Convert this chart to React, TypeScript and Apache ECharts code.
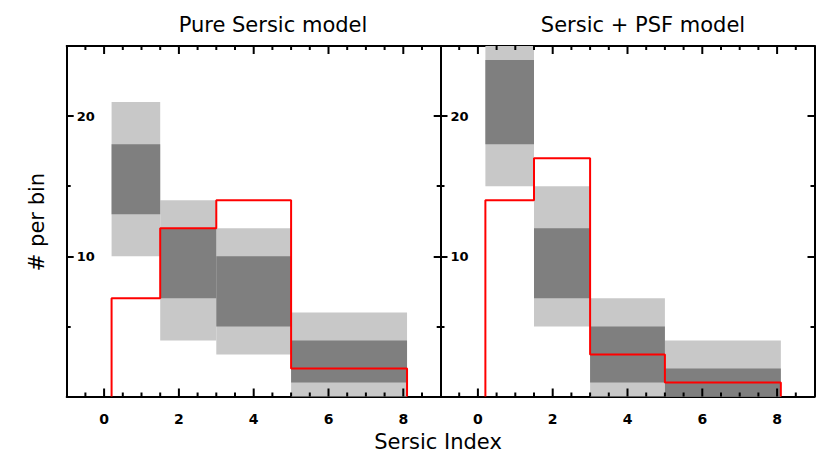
import React, { useEffect, useRef } from "react";
import * as echarts from "echarts";

// Bin edges (Sersic index)
const binEdges = [0.2, 1.5, 3, 5, 8.1];

// Left panel: Pure Sersic model
const leftLightLow = [10, 4, 3, 0];
const leftLightHigh = [21, 14, 12, 6];
const leftDarkLow = [13, 7, 5, 1];
const leftDarkHigh = [18, 12, 10, 4];
const leftRed = [7, 12, 14, 2];

// Right panel: Sersic + PSF model
const rightLightLow = [15, 5, 0, 0];
const rightLightHigh = [27, 15, 7, 4];
const rightDarkLow = [18, 7, 1, 0];
const rightDarkHigh = [24, 12, 5, 2];
const rightRed = [14, 17, 3, 1];

const xMajorTicks = [0, 2, 4, 6, 8];
const xMinorTicks = [-0.5, 0.5, 1, 1.5, 2.5, 3, 3.5, 4.5, 5, 5.5, 6.5, 7, 7.5, 8.5];
const yMajorTicks = [10, 20];
const titles = ["Pure Sersic model", "Sersic + PSF model"];

const FONT = "DejaVu Sans";
const X_MIN = -1;
const X_MAX = 9;
const Y_MIN = 0;
const Y_MAX = 25;
const GRID_H = 350.5;
const MINOR_LEN = 4;
const MAJOR_LEN = 8;

function rects(low: number[], high: number[]) {
  return low.map((lo, i) => [binEdges[i], binEdges[i + 1], lo, high[i]]);
}

function stepLine(vals: number[]) {
  const pts: number[][] = [[binEdges[0], 0]];
  vals.forEach((v, i) => {
    pts.push([binEdges[i], v]);
    pts.push([binEdges[i + 1], v]);
  });
  pts.push([binEdges[binEdges.length - 1], 0]);
  return pts;
}

// tick segments (bottom and top edges, pointing inward), broken with '-'
function tickSegments(vals: number[], lenPx: number) {
  const du = (lenPx * (Y_MAX - Y_MIN)) / GRID_H;
  const out: any[] = [];
  vals.forEach((v) => {
    out.push([v, Y_MIN], [v, Y_MIN + du], "-");
    out.push([v, Y_MAX], [v, Y_MAX - du], "-");
  });
  return out;
}

export default function App() {
  const ref = useRef<HTMLDivElement>(null);
  useEffect(() => {
    if (!ref.current) return;
    const chart = echarts.init(ref.current, undefined, { renderer: "svg" });

    const gridLefts = [66.7, 440.5];
    const grids = gridLefts.map((l) => ({
      left: l,
      top: 46,
      width: 374,
      height: GRID_H,
      containLabel: false,
    }));

    const xAxes: any[] = [];
    const yAxes: any[] = [];
    const mkLine = (show: boolean) => ({ show, onZero: false, lineStyle: { color: "#000", width: 2 } });
    const mkTick = () => ({ color: "#000", width: 2 });
    [0, 1].forEach((g) => {
      xAxes.push({
        type: "value",
        gridIndex: g,
        min: X_MIN,
        max: X_MAX,
        interval: 0.5,
        position: "bottom",
        splitLine: { show: false },
        axisLine: mkLine(true),
        axisTick: { show: false },
        axisLabel: {
          show: true,
          customValues: xMajorTicks,
          fontFamily: FONT,
          fontSize: 14,
          fontWeight: "bold",
          color: "#000",
          margin: 15,
        },
      });
      xAxes.push({
        type: "value",
        gridIndex: g,
        min: X_MIN,
        max: X_MAX,
        interval: 0.5,
        position: "top",
        splitLine: { show: false },
        axisLine: mkLine(true),
        axisTick: { show: false },
        axisLabel: { show: false },
      });

      const baseY = {
        type: "value",
        gridIndex: g,
        min: Y_MIN,
        max: Y_MAX,
        interval: 5,
        splitLine: { show: false },
      };
      yAxes.push({
        ...baseY,
        position: "left",
        axisLine: mkLine(true),
        axisTick: { show: true, inside: true, length: 4, lineStyle: mkTick() },
        axisLabel: {
          show: true,
          inside: true,
          customValues: yMajorTicks,
          fontFamily: FONT,
          fontSize: 13,
          fontWeight: "bold",
          color: "#000",
          margin: 10,
        },
      });
      yAxes.push({
        ...baseY,
        position: "left",
        axisLine: mkLine(false),
        axisTick: { show: true, inside: true, length: 7, customValues: yMajorTicks, lineStyle: mkTick() },
        axisLabel: { show: false },
      });
      yAxes.push({
        ...baseY,
        position: "right",
        axisLine: mkLine(true),
        axisTick: { show: true, inside: true, length: 4, lineStyle: mkTick() },
        axisLabel: { show: false },
      });
      yAxes.push({
        ...baseY,
        position: "right",
        axisLine: mkLine(false),
        axisTick: { show: true, inside: true, length: 7, customValues: yMajorTicks, lineStyle: mkTick() },
        axisLabel: { show: false },
      });
    });

    const renderRect = (color: string) => (params: any, api: any) => {
      const p0 = api.coord([api.value(0), api.value(3)]);
      const p1 = api.coord([api.value(1), api.value(2)]);
      const shape = echarts.graphic.clipRectByRect(
        { x: p0[0], y: p0[1], width: p1[0] - p0[0], height: p1[1] - p0[1] },
        {
          x: params.coordSys.x,
          y: params.coordSys.y,
          width: params.coordSys.width,
          height: params.coordSys.height,
        }
      );
      return shape ? { type: "rect", shape, style: { fill: color } } : null;
    };

    const panels = [
      { lightLow: leftLightLow, lightHigh: leftLightHigh, darkLow: leftDarkLow, darkHigh: leftDarkHigh, red: leftRed },
      { lightLow: rightLightLow, lightHigh: rightLightHigh, darkLow: rightDarkLow, darkHigh: rightDarkHigh, red: rightRed },
    ];

    const series: any[] = [];
    panels.forEach((p, g) => {
      const xi = g * 2;
      const yi = g * 4;
      series.push({
        type: "custom",
        xAxisIndex: xi,
        yAxisIndex: yi,
        renderItem: renderRect("#c8c8c8"),
        data: rects(p.lightLow, p.lightHigh),
        encode: { x: [0, 1], y: [2, 3] },
        z: 1,
        silent: true,
      });
      series.push({
        type: "custom",
        xAxisIndex: xi,
        yAxisIndex: yi,
        renderItem: renderRect("#7f7f7f"),
        data: rects(p.darkLow, p.darkHigh),
        encode: { x: [0, 1], y: [2, 3] },
        z: 2,
        silent: true,
      });
      series.push({
        type: "line",
        xAxisIndex: xi,
        yAxisIndex: yi,
        data: stepLine(p.red),
        showSymbol: false,
        symbol: "none",
        lineStyle: { color: "#ff0000", width: 2 },
        z: 3,
        silent: true,
      });
      // x-axis minor and major ticks
      [
        { vals: xMinorTicks, len: MINOR_LEN },
        { vals: xMajorTicks, len: MAJOR_LEN },
      ].forEach((t) => {
        series.push({
          type: "line",
          xAxisIndex: xi,
          yAxisIndex: yi,
          data: tickSegments(t.vals, t.len),
          connectNulls: false,
          showSymbol: false,
          symbol: "none",
          clip: false,
          lineStyle: { color: "#000", width: 2 },
          z: 10,
          silent: true,
        });
      });
    });

    chart.setOption({
      animation: false,
      backgroundColor: "#fff",
      title: titles.map((t, i) => ({
        text: t,
        left: i === 0 ? 268 : 638,
        top: 20,
        textAlign: "center",
        textVerticalAlign: "middle",
        textStyle: { fontFamily: FONT, fontSize: 21, fontWeight: "normal", color: "#000" },
      })),
      graphic: [
        {
          type: "text",
          x: 438,
          y: 442,
          style: {
            text: "Sersic Index",
            fontFamily: FONT,
            fontSize: 21,
            fill: "#000",
            align: "center",
            verticalAlign: "middle",
          },
        },
        {
          type: "text",
          x: 37,
          y: 222,
          rotation: Math.PI / 2,
          style: {
            text: "# per bin",
            fontFamily: FONT,
            fontSize: 21,
            fill: "#000",
            align: "center",
            verticalAlign: "middle",
          },
        },
      ],
      grid: grids,
      xAxis: xAxes,
      yAxis: yAxes,
      series,
    });

    return () => chart.dispose();
  }, []);
  return <div ref={ref} style={{ width: 830, height: 467, margin: -8 }} />;
}
